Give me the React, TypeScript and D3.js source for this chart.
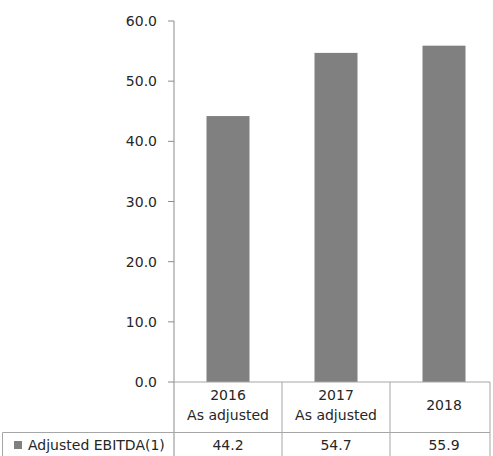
import React from "react";
import * as d3 from "d3";

const categories = ["2016|As adjusted", "2017|As adjusted", "2018"];
const values = [44.2, 54.7, 55.9];
const valueLabels = ["44.2", "54.7", "55.9"];
const yTicks = [0, 10, 20, 30, 40, 50, 60];
const seriesName = "Adjusted EBITDA(1)";

const W = 493;
const H = 456;
const FONT = "'DejaVu Sans', sans-serif";

export default function App() {
  const x0 = 174;
  const bandW = 108;
  const x = d3
    .scaleBand<string>()
    .domain(categories)
    .range([x0, x0 + bandW * categories.length])
    .paddingInner(0)
    .paddingOuter(0);
  const y = d3.scaleLinear().domain([0, 60]).range([382, 21]);
  const barW = 43;
  const rightEdge = 490;
  const legendTop = 432.5;
  const gridColor = "#a6a6a6";

  return (
    <div style={{ position: "absolute", left: 0, top: 0 }}>
      <svg width={W} height={H} style={{ display: "block" }}>
        <rect width={W} height={H} fill="#fff" />
        {/* bars */}
        {categories.map((c, i) => (
          <rect
            key={c}
            x={(x(c) as number) + x.bandwidth() / 2 - barW / 2}
            y={y(values[i])}
            width={barW}
            height={y(0) - y(values[i])}
            fill="#808080"
          />
        ))}
        {/* y axis */}
        <line x1={x0} x2={x0} y1={y(60)} y2={H} stroke="#8c8c8c" strokeWidth={1} />
        {yTicks.map((t) => (
          <g key={t}>
            <line x1={x0 - 6} x2={x0} y1={y(t)} y2={y(t)} stroke="#8c8c8c" />
            <text
              x={157}
              y={y(t)}
              dy="0.36em"
              textAnchor="end"
              fontFamily={FONT}
              fontSize={14}
              fill="#262626"
            >
              {d3.format(".1f")(t)}
            </text>
          </g>
        ))}
        {/* table */}
        <line x1={x0} x2={rightEdge} y1={y(0)} y2={y(0)} stroke={gridColor} />
        <line x1={2.5} x2={rightEdge} y1={legendTop} y2={legendTop} stroke={gridColor} />
        <line x1={2.5} x2={2.5} y1={legendTop} y2={H} stroke={gridColor} />
        {categories.slice(1).map((c) => (
          <line
            key={c}
            x1={x(c) as number}
            x2={x(c) as number}
            y1={y(0)}
            y2={H}
            stroke={gridColor}
          />
        ))}
        <line x1={rightEdge} x2={rightEdge} y1={y(0)} y2={H} stroke={gridColor} />
        {categories.map((c, i) => {
          const parts = c.split("|");
          const cx = (x(c) as number) + x.bandwidth() / 2;
          return (
            <g key={c} fontFamily={FONT} fontSize={14} fill="#262626" textAnchor="middle">
              {parts.length === 2 ? (
                <>
                  <text x={cx} y={400}>{parts[0]}</text>
                  <text x={cx} y={420}>{parts[1]}</text>
                </>
              ) : (
                <text x={cx} y={410}>{parts[0]}</text>
              )}
              <text x={cx} y={450}>{valueLabels[i]}</text>
            </g>
          );
        })}
        <rect x={14} y={441} width={8} height={8} fill="#808080" />
        <text x={28} y={450} fontFamily={FONT} fontSize={14} fill="#262626">
          {seriesName}
        </text>
      </svg>
    </div>
  );
}
